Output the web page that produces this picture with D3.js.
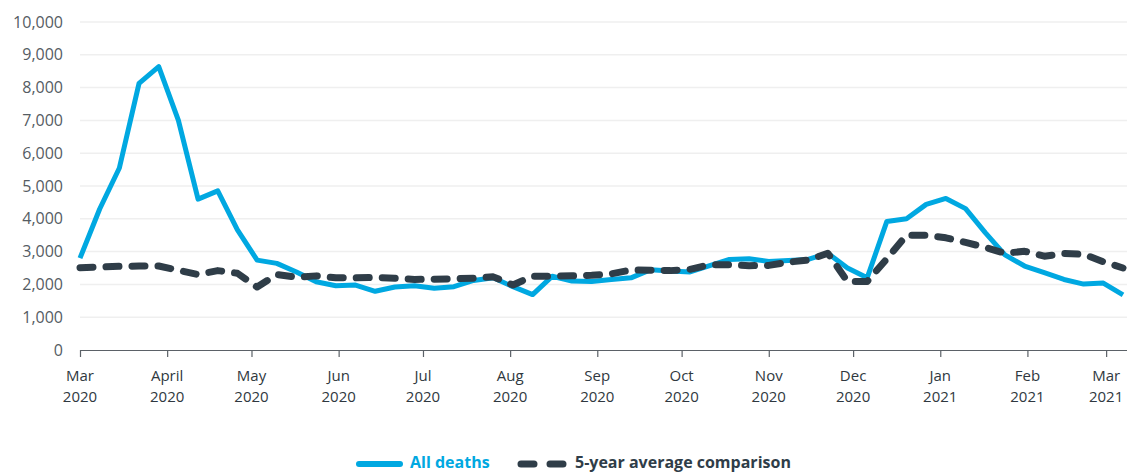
<!DOCTYPE html>
<html>
<head>
<meta charset="utf-8">
<script src="https://cdn.jsdelivr.net/npm/d3@7"></script>
<style>
  html, body { margin: 0; padding: 0; background: #fff; }
  svg { display: block; font-family: "Open Sans", sans-serif; }
</style>
</head>
<body>
<svg id="chart" width="1127" height="473"></svg>
<script>
// ---- Data ----
const startDate = "2020-03-01";
const allDeaths = [2800, 4300, 5550, 8130, 8640, 7000, 4600, 4850, 3660, 2740,
  2640, 2380, 2080, 1960, 1980, 1790, 1920, 1960, 1880, 1930,
  2120, 2200, 1930, 1690, 2250, 2100, 2090, 2150, 2200, 2450,
  2410, 2380, 2570, 2760, 2780, 2700, 2730, 2760, 2950, 2500,
  2200, 3920, 4000, 4440, 4620, 4310, 3580, 2900, 2560, 2360,
  2150, 2010, 2040, 1680];
const fiveYearAvg = [2510, 2530, 2550, 2560, 2560, 2430, 2300, 2420, 2340, 1920,
  2300, 2220, 2260, 2200, 2200, 2210, 2190, 2150, 2160, 2170,
  2190, 2230, 1980, 2250, 2250, 2260, 2280, 2320, 2440, 2430,
  2420, 2460, 2600, 2600, 2570, 2580, 2680, 2740, 2950, 2090,
  2090, 2780, 3500, 3500, 3420, 3280, 3130, 2950, 3010, 2860,
  2940, 2920, 2690, 2500];
const yTicks = [0, 1000, 2000, 3000, 4000, 5000, 6000, 7000, 8000, 9000, 10000];
const xTickDates = ["2020-03-01", "2020-04-01", "2020-05-01", "2020-06-01", "2020-07-01",
  "2020-08-01", "2020-09-01", "2020-10-01", "2020-11-01", "2020-12-01",
  "2021-01-01", "2021-02-01", "2021-03-01"];
const xTickMonths = ["Mar", "April", "May", "Jun", "Jul", "Aug", "Sep", "Oct", "Nov",
  "Dec", "Jan", "Feb", "Mar"];
const xTickYears = ["2020", "2020", "2020", "2020", "2020", "2020", "2020", "2020", "2020",
  "2020", "2021", "2021", "2021"];
const seriesNames = ["All deaths", "5-year average comparison"];

// ---- Build ----
const parse = d3.utcParse("%Y-%m-%d");
const d0 = parse(startDate);
const dates = allDeaths.map((_, i) => d3.utcDay.offset(d0, 7 * i));
const blueData = dates.map((d, i) => ({ date: d, value: allDeaths[i] }));
const avgData = dates.map((d, i) => ({ date: d, value: fiveYearAvg[i] }));

const blue = "#00a8e1";
const dark = "#2f3d48";
const textCol = "#555c63";

const svg = d3.select("#chart");
const mLeft = 80, mRight = 1123, mTop = 22, mBottom = 350;

const x = d3.scaleUtc().domain([dates[0], dates[dates.length - 1]]).range([mLeft, mRight]);
const y = d3.scaleLinear().domain([0, 10000]).range([mBottom, mTop]);

// gridlines
svg.append("g").selectAll("line").data(yTicks.filter(t => t > 0)).join("line")
  .attr("x1", mLeft).attr("x2", 1127)
  .attr("y1", d => y(d)).attr("y2", d => y(d))
  .attr("stroke", "#efefef").attr("stroke-width", 1.5);

// y labels
svg.append("g").selectAll("text").data(yTicks).join("text")
  .attr("x", 63).attr("y", d => y(d)).attr("dy", "0.35em")
  .attr("text-anchor", "end").attr("fill", textCol)
  .style("font-size", "16px")
  .text(d => d3.format(",")(d));

// x axis
const xAxis = d3.axisBottom(x)
  .tickValues(xTickDates.map(parse))
  .tickSize(7).tickFormat("");
const gx = svg.append("g").attr("transform", `translate(0,${mBottom})`).call(xAxis);
gx.select(".domain").attr("stroke", "#5b6167").attr("stroke-width", 1.2)
  .attr("d", `M${mLeft},0.5H1127`);
gx.selectAll(".tick line").attr("stroke", "#5b6167").attr("stroke-width", 1.2);

const xg = svg.append("g").attr("fill", "#2f3840").style("font-size", "15px")
  .attr("text-anchor", "middle");
xg.selectAll("text.m").data(xTickDates).join("text").attr("class", "m")
  .attr("x", d => x(parse(d))).attr("y", 381)
  .text((d, i) => xTickMonths[i]);
xg.selectAll("text.yr").data(xTickDates).join("text").attr("class", "yr")
  .attr("x", d => x(parse(d))).attr("y", 402)
  .text((d, i) => xTickYears[i]);

// lines
const line = d3.line().x(d => x(d.date)).y(d => y(d.value));
svg.append("path").datum(blueData).attr("d", line)
  .attr("fill", "none").attr("stroke", blue).attr("stroke-width", 5)
  .attr("stroke-linejoin", "round");
svg.append("path").datum(avgData).attr("d", line)
  .attr("fill", "none").attr("stroke", dark).attr("stroke-width", 7)
  .attr("stroke-dasharray", "13,13").attr("stroke-linecap", "round")
  .attr("stroke-linejoin", "round");

// legend
const lg = svg.append("g");
lg.append("line").attr("x1", 359).attr("x2", 400).attr("y1", 464).attr("y2", 464)
  .attr("stroke", blue).attr("stroke-width", 6).attr("stroke-linecap", "round");
lg.append("text").attr("x", 410).attr("y", 468).attr("fill", blue)
  .style("font-size", "16px").style("font-weight", "bold").text(seriesNames[0]);
lg.append("line").attr("x1", 521).attr("x2", 563).attr("y1", 464).attr("y2", 464)
  .attr("stroke", dark).attr("stroke-width", 7).attr("stroke-linecap", "round")
  .attr("stroke-dasharray", "13,16");
lg.append("text").attr("x", 575).attr("y", 468).attr("fill", dark)
  .style("font-size", "16px").style("font-weight", "bold").text(seriesNames[1]);
</script>
</body>
</html>
